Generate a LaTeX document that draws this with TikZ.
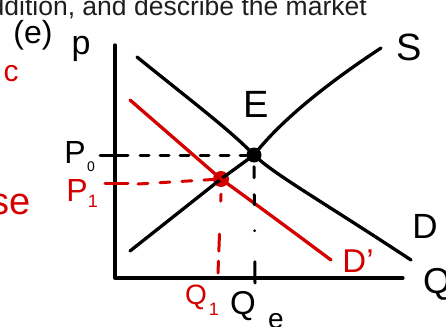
\documentclass[tikz,border=0pt]{standalone}
\usepackage{fontspec}
\setmainfont{Liberation Sans}
\usetikzlibrary{positioning}
\definecolor{cink}{HTML}{000000}
\definecolor{cred}{HTML}{D40000}
\definecolor{cprint}{HTML}{1E1E1E}

\begin{document}
\begin{tikzpicture}[
  x=1pt, y=-1pt,
  curve/.style={
    draw=#1, line width=3.3pt, line cap=round, line join=round
  },
  guide/.style={
    draw=#1, line width=3pt, line cap=round
  },
  lbl/.style={
    inner sep=0pt, anchor=center, font=\fontsize{#1}{#1}\selectfont
  },
  dot/.style={
    circle, fill=#1, inner sep=0pt, minimum size=15pt
  }
]
\useasboundingbox (0,0) rectangle (446,326);

% ============================================================
% Printed question text (cut at the top edge) and margin notes
% ============================================================
\node[lbl=26.5, anchor=base east, text=cprint] (question)
  at (367,15.5) {addition, and describe the market};

\node[lbl=32, text=cink] (part) at (33,35) {(e)};
\node[lbl=30, text=cred] (noteC) at (11,74) {c};
\node[lbl=38, text=cred, anchor=east] (noteSe) at (31,204) {se};

% ============================================================
% Axes
% ============================================================
\coordinate (top) at (115,45);
\coordinate (O) at (115,278);
\coordinate (right) at (403,278);
\draw[curve=cink] (top) -- (O) -- (right);

\node[lbl=34] (pAxis) at (81,49) {p};
\node[lbl=36] (qAxis) at (437,284) {Q};

% Equilibrium points
\node[dot=cink] (E) at (254,155) {};
\node[dot=cred, minimum size=16pt] (E1) at (221,179) {};

% ============================================================
% Supply, demand and the shifted demand
% ============================================================
\draw[curve=cink] (130,251) -- (E1.center) -- (E.center)
  .. controls (285,115) and (340,75) .. (381,48);

\draw[curve=cink] (137,57) .. controls (190,100) and (230,130) .. (E.center)
  .. controls (275,175) and (320,200) .. (411,260);

\draw[curve=cred] (130,100) -- (E1.center)
  .. controls (250,200) and (280,222) .. (331,260);

\node[lbl=38] (sLbl) at (409,47) {S};
\node[lbl=38] (eLbl) at (256,104) {E};
\node[lbl=35] (dLbl) at (425,226) {D};
\node[lbl=33, text=cred] (d1Lbl) at (358,261) {D'};

% ============================================================
% Guide lines to the axes
% ============================================================
% old price
\coordinate (p0tick) at (100,155);
\draw[guide=cink] (p0tick) -- (128,155);
\draw[guide=cink, dash pattern=on 9pt off 11pt] (140,155) -- (E);
\node[lbl=32] (p0Lbl) at (75,152) {P};
\node[lbl=14] (p0Sub) at (91,167) {0};

% new price
\coordinate (p1tick) at (105,183);
\draw[guide=cred] (p1tick) -- (128,183);
\draw[guide=cred, dash pattern=on 10pt off 12pt] (138,184) -- (E1);
\node[lbl=32, text=cred] (p1Lbl) at (77,190) {P};
\node[lbl=18, text=cred] (p1Sub) at (93,201) {1};

% new quantity
\coordinate (q1foot) at (218,273);
\draw[guide=cred, dash pattern=on 7pt off 33pt on 17pt off 10pt on 13pt off 40pt]
  ([yshift=-7pt]E1.south) -- (q1foot);
\node[lbl=28, text=cred] (q1Lbl) at (196,297) {Q};
\node[lbl=18, text=cred] (q1Sub) at (214,309) {1};

% old quantity
\coordinate (qefoot) at (255,283);
\draw[guide=cink, dash pattern=on 11pt off 17pt on 10pt off 26pt on 0pt off 31pt on 22pt off 20pt]
  ([yshift=-4pt]E.south) -- (qefoot);
\node[lbl=33] (qeLbl) at (243,306) {Q};
\node[lbl=28] (qeSub) at (276,321) {e};

\end{tikzpicture}
\end{document}
